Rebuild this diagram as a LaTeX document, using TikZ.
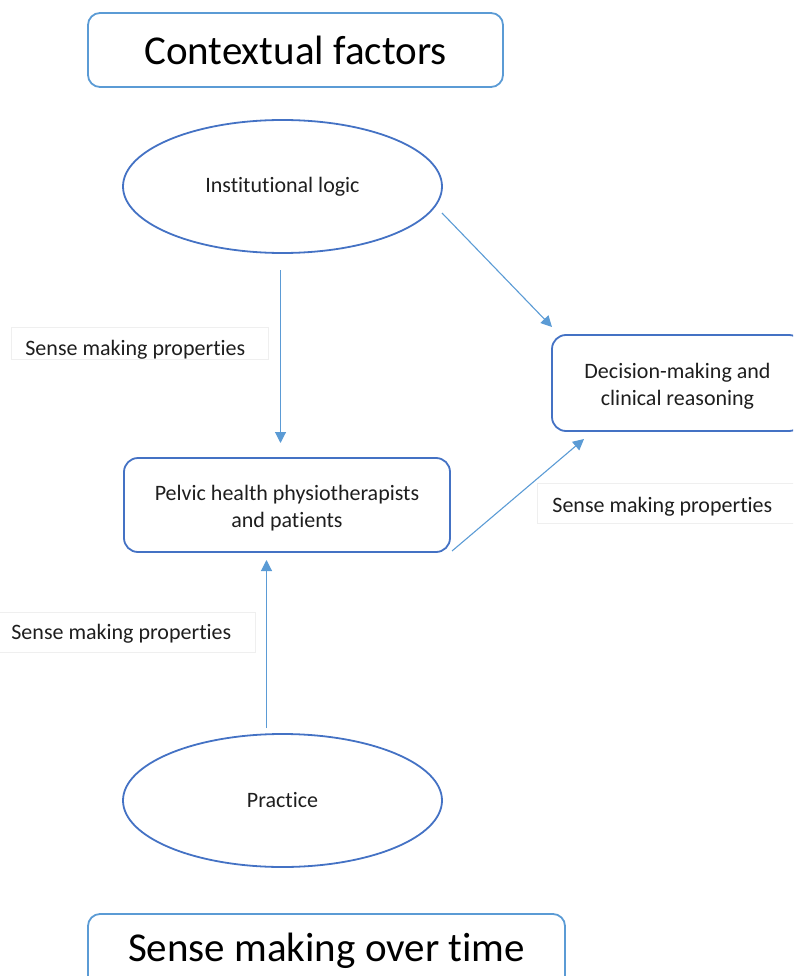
\documentclass[tikz,border=0pt]{standalone}
\usepackage{fontspec}
\setmainfont{Carlito}[Ligatures=NoCommon]
\usetikzlibrary{shapes.geometric,arrows.meta}
\definecolor{boxblue}{HTML}{5B9BD5}
\definecolor{shapeblue}{HTML}{4472C4}
\definecolor{lblgray}{HTML}{EFEFEF}
\definecolor{inkgray}{HTML}{1E1E1E}
\newcommand\headfont{\fontsize{41}{49}\selectfont}
\newcommand\bodyfont{\fontsize{22}{27}\selectfont}
\begin{document}
\begin{tikzpicture}[x=1pt,y=-1pt,
  titlebox/.style={draw=boxblue, line width=1.8pt, rounded corners=12pt,
    inner sep=0pt, font=\headfont, text=black},
  oval/.style={ellipse, draw=shapeblue, line width=1.8pt, inner sep=0pt,
    minimum width=319pt, minimum height=133pt, font=\bodyfont, text=inkgray},
  stagebox/.style={draw=shapeblue, line width=1.8pt, rounded corners=14pt,
    inner sep=0pt, align=center, font=\bodyfont, text=inkgray},
  lbl/.style={draw=lblgray, line width=0.8pt, inner xsep=14pt, inner ysep=0pt,
    align=flush left, font=\bodyfont, text=inkgray, anchor=base west},
  conn/.style={draw=boxblue, line width=1.1pt,
    -{Triangle[length=11pt,width=11pt]}}
]
\useasboundingbox (0,0) rectangle (793,976);
\clip (0,0) rectangle (793,976);

% headings
\node[titlebox, minimum width=415pt, minimum height=74pt] (ctx) at (295.5,50) {Contextual factors};
\node[titlebox, minimum width=477pt, minimum height=74pt] (smot) at (326.5,951) {Sense making over time};

% ovals
\node[oval] (inst) at (282.5,186.5) {Institutional logic};
\node[oval] (prac) at (282.5,800.5) {Practice};

% rounded boxes
\node[stagebox, minimum width=326pt, minimum height=94pt] (pelvic) at (287,505)
  {\rule{0pt}{21pt}Pelvic health physiotherapists\\and patients};
\node[stagebox, minimum width=251pt, minimum height=96pt] (dm) at (677.5,383)
  {\rule{0pt}{21pt}Decision-making and\\clinical reasoning};

% connector labels
\node[lbl, text width=229pt, text height=28pt, text depth=4pt] (l1) at (11,355) {Sense making properties};
\node[lbl, inner xsep=15pt, text width=250pt, text height=29pt, text depth=11pt] (l2) at (537,512) {Sense making properties};
\node[lbl, text width=230pt, text height=27pt, text depth=13pt] (l3) at (-3,639) {Sense making properties};

% connector end points
\coordinate (a1s) at (280.5,270);
\coordinate (a1e) at (280.5,443);
\coordinate (a2s) at (442,213);
\coordinate (a2e) at (552,327);
\coordinate (a3s) at (452,551);
\coordinate (a3e) at (584,439);
\coordinate (a4s) at (266.5,728);
\coordinate (a4e) at (266.5,560);

\draw[conn] (a1s) -- (a1e);
\draw[conn] (a2s) -- (a2e);
\draw[conn] (a3s) -- (a3e);
\draw[conn] (a4s) -- (a4e);
\end{tikzpicture}
\end{document}
